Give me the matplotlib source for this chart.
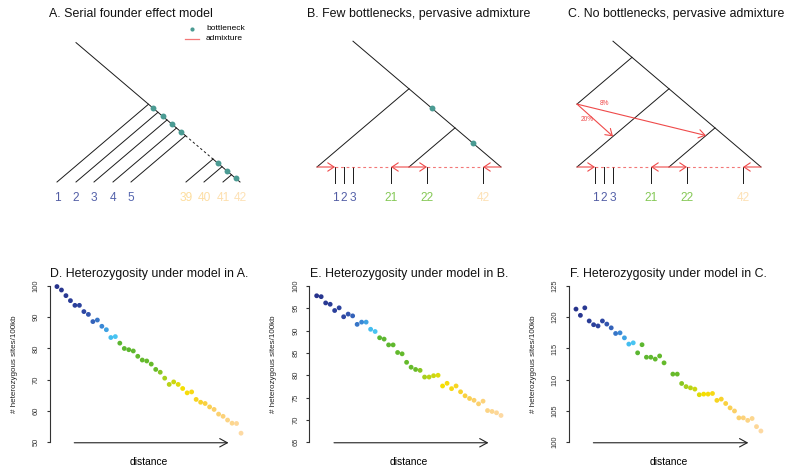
"""
Three demographic models (top) and the heterozygosity gradients they produce (bottom).
"""
import numpy as np
import matplotlib
matplotlib.use("Agg")
import matplotlib.pyplot as plt
from matplotlib.colors import to_rgb

plt.rcParams["font.family"] = ["Liberation Sans", "DejaVu Sans"]

hetA = [99.8, 98.7, 96.9, 95.3, 93.8, 93.8, 91.8, 90.9, 88.6, 89.1, 87.1, 86.0, 83.5, 83.8,
        81.7, 80.0, 79.6, 79.2, 77.5, 76.3, 76.0, 75.0, 73.3, 72.4, 70.5, 68.5, 69.3, 68.5,
        67.2, 65.8, 66.1, 63.7, 62.8, 62.4, 61.3, 60.5, 59.0, 58.3, 57.1, 56.1, 56.0, 52.9]
hetB = [97.8, 97.6, 96.2, 95.9, 94.5, 95.1, 93.1, 93.7, 93.3, 91.4, 91.9, 91.9, 90.3, 89.8,
        88.4, 88.1, 86.8, 86.8, 85.1, 84.8, 82.9, 81.8, 81.3, 81.1, 79.6, 79.6, 79.9, 80.0,
        77.6, 78.2, 77.0, 77.6, 76.3, 75.4, 74.8, 74.4, 73.6, 74.2, 72.1, 71.9, 71.6, 71.0]
hetC = [121.3, 120.3, 121.5, 119.4, 118.8, 118.6, 119.4, 118.9, 118.3, 117.4, 117.5, 116.7,
        115.7, 115.9, 114.3, 115.6, 113.6, 113.6, 113.3, 113.8, 112.7, 110.9, 110.9, 109.4,
        108.9, 108.7, 108.5, 107.6, 107.7, 107.7, 107.8, 106.7, 106.9, 106.2, 105.5, 105.0,
        103.9, 103.9, 103.5, 103.8, 102.5, 101.8]
popIndex = list(range(1, 43))
distA = list(range(1, 43))
distB = list(range(1, 43))
distC = list(range(1, 22)) + list(range(23, 44))  # panel F has one empty slot

yTicksA = [50, 60, 70, 80, 90, 100]
yTicksB = [65, 70, 75, 80, 85, 90, 95, 100]
yTicksC = [100, 105, 110, 115, 120, 125]

topTitles = ["A. Serial founder effect model",
             "B. Few bottlenecks, pervasive admixture",
             "C. No bottlenecks, pervasive admixture"]
bottomTitles = ["D. Heterozygosity under model in A.",
                "E. Heterozygosity under model in B.",
                "F. Heterozygosity under model in C."]

# schematic trees, in pixel units of the top half
leavesA = [57, 76, 94, 113, 131, 186, 204, 223, 240]
popsA = [1, 2, 3, 4, 5, 39, 40, 41, 42]
rootA = 76
leavesB = [317, 409, 501]
rootB = 353
samplesB = [335, 344, 353, 391, 427, 483]
popsB = [1, 2, 3, 21, 22, 42]
bottleB = [432, 473]
offsetC = 260
ghostTopC = 632
ghostEndC = 577
admixTargetsC = [613, 706]
admixLabelsC = ["20%", "8%"]

# colours along the distance gradient
COLOR_STOPS = [(1, "#27338c"), (7, "#2d46a2"), (9, "#3462b9"), (11, "#3a87d5"), (13, "#44bdf0"),
               (14, "#48c4f2"), (15, "#5bb631"), (23, "#68bb29"), (25, "#a6cf1d"), (28, "#dedb0a"),
               (29, "#f5df00"), (33, "#f8d22c"), (36, "#fbcf66"), (42, "#fdd9a2")]
LINE = "#1a1a1a"
RED = "#ef4a4a"
TEAL = "#4b9b93"
SLOPE = 0.85


def PopColor(i, light=0.0):
    xs = [s[0] for s in COLOR_STOPS]
    rgb = np.array([to_rgb(s[1]) for s in COLOR_STOPS])
    c = np.array([np.interp(i, xs, rgb[:, k]) for k in range(3)])
    return tuple(c + (1 - c) * light)


def RedArrow(ax, x0, y0, x1, y1):
    ax.annotate("", xy=(x1, y1), xytext=(x0, y0),
                arrowprops=dict(arrowstyle="->,head_length=0.45,head_width=0.3", color=RED,
                                lw=0.8, shrinkA=0, shrinkB=0, mutation_scale=10))


def DrawTreeA(ax):
    base = 182
    right = leavesA[-1]
    mainY = lambda x: base - SLOPE * (right - x)
    nodes = [(l + right) / 2 for l in leavesA[:-1]]
    for l, nx in zip(leavesA[:-1], nodes):
        ax.plot([l, nx], [base, mainY(nx)], color=LINE, lw=0.7)
    n5, n39 = nodes[4], nodes[5]
    ax.plot([rootA, n5], [mainY(rootA), mainY(n5)], color=LINE, lw=0.7)
    ax.plot([n5, n39], [mainY(n5), mainY(n39)], color=LINE, lw=0.7, ls=(0, (2.5, 2.5)))
    ax.plot([n39, right], [mainY(n39), base], color=LINE, lw=0.7)
    stops = nodes + [right]
    dotsX = [(stops[i] + stops[i + 1]) / 2 for i in range(len(stops) - 1) if i != 4]
    ax.scatter(dotsX, [mainY(x) for x in dotsX], s=18, color=TEAL, lw=0, zorder=5)
    for x, p in zip(leavesA, popsA):
        ax.text(x, 198, str(p), ha="center", va="center", fontsize=8.6, color=PopColor(p, 0.2))
    # legend
    ax.scatter([192], [29], s=9, color=TEAL, lw=0)
    ax.text(206, 29, "bottleneck", fontsize=6, va="center")
    ax.plot([185, 199], [39, 39], color=RED, lw=0.9, alpha=0.75)
    ax.text(206, 39, "admixture", fontsize=6, va="center")


def DrawTreeBC(ax, off, ghost):
    base = 167
    left, mid, right = [l + off for l in leavesB]
    mainY = lambda x: base - SLOPE * (right - x)
    root = rootB + off
    ax.plot([root, right], [mainY(root), base], color=LINE, lw=0.7)
    for l in (left, mid):
        nx = (l + right) / 2
        ax.plot([l, nx], [base, mainY(nx)], color=LINE, lw=0.7)
    if ghost:
        gTop, gEnd = ghostTopC, ghostEndC
        gEndY = mainY(gTop) + SLOPE * (gTop - gEnd)
        ax.plot([gEnd, gTop], [gEndY, mainY(gTop)], color=LINE, lw=0.7)
        branchStarts = [left, mid]
        for tx, bl in zip(admixTargetsC, branchStarts):
            ty = base - SLOPE * (tx - bl)
            RedArrow(ax, gEnd, gEndY, tx, ty)
        ax.text(gEnd + 10, gEndY + 15, admixLabelsC[0], fontsize=4.7, color=RED,
                ha="center", va="center")
        ax.text(gEnd + 27, gEndY - 1, admixLabelsC[1], fontsize=4.7, color=RED,
                ha="center", va="center")
    else:
        for bx in bottleB:
            ax.scatter([bx + off], [mainY(bx + off)], s=18, color=TEAL, lw=0, zorder=5)
    samples = [s + off for s in samplesB]
    for x, p in zip(samples, popsB):
        ax.plot([x, x], [base, base + 16], color=LINE, lw=0.7)
        ax.text(x, 198, str(p), ha="center", va="center", fontsize=8.6, color=PopColor(p, 0.2))
    # admixture along the sampling line
    ax.plot([samples[0], samples[3]], [base, base], color=RED, lw=0.8, alpha=0.75,
            ls=(0, (2.5, 2.5)))
    ax.plot([samples[4], samples[5]], [base, base], color=RED, lw=0.8, alpha=0.75,
            ls=(0, (2.5, 2.5)))
    RedArrow(ax, left, base, samples[0], base)
    RedArrow(ax, mid, base, samples[3], base)
    RedArrow(ax, mid, base, samples[4], base)
    RedArrow(ax, right, base, samples[5], base)


def DrawScatter(fig, rect, dist, het, ticks, title):
    ax = fig.add_axes(rect)
    pad = 0.04 * (dist[-1] - dist[0])
    ax.set_xlim(dist[0] - pad, dist[-1] + pad)
    ypad = 0.04 * (ticks[-1] - ticks[0])
    ax.set_ylim(ticks[0] - ypad, ticks[-1] + ypad)
    ax.scatter(dist, het, s=12, c=[PopColor(i) for i in popIndex], lw=0, clip_on=False)
    for side in ("top", "right", "bottom"):
        ax.spines[side].set_visible(False)
    ax.spines["left"].set_bounds(ticks[0], ticks[-1])
    ax.spines["left"].set_color("#333333")
    ax.spines["left"].set_linewidth(0.8)
    ax.set_xticks([])
    ax.set_yticks(ticks)
    ax.tick_params(axis="y", length=2.5, width=0.8, pad=4.5, labelsize=5.4, colors="#333333",
                   labelrotation=90)
    for t in ax.get_yticklabels():
        t.set_va("center")
    ax.set_ylabel("# heterozygous sites/100kb", fontsize=5.8, color="#222222")
    ax.yaxis.set_label_coords(-0.16, 0.5)
    ax.set_title(title, fontsize=8.9, pad=1.5, color="#111111")
    ax.annotate("", xy=(0.9, 0.034), xytext=(0.124, 0.034), xycoords="axes fraction",
                arrowprops=dict(arrowstyle="->,head_length=0.55,head_width=0.3", color="#222222",
                                lw=0.8, shrinkA=0, shrinkB=0, mutation_scale=10),
                annotation_clip=False)
    ax.text(0.5, -0.08, "distance", transform=ax.transAxes, ha="center", va="center",
            fontsize=7.4)
    ax.patch.set_alpha(0)
    return ax


def main():
    W, H = 787, 472
    fig = plt.figure(figsize=(W / 100, H / 100), dpi=100)
    top = fig.add_axes([0, 0, 1, 1])
    top.set_xlim(0, W)
    top.set_ylim(H, 0)
    top.axis("off")
    for x, t in zip([131, 419, 676], topTitles):
        top.text(x, 14, t, ha="center", va="center", fontsize=8.9, color="#111111")
    DrawTreeA(top)
    DrawTreeBC(top, 0, False)
    DrawTreeBC(top, offsetC, True)

    lefts = [49.6, 309.3, 568.6]
    widths = [198.8, 199.1, 199.7]
    yTop, yBottom = 279.7, 448.5
    panels = [(distA, hetA, yTicksA), (distB, hetB, yTicksB), (distC, hetC, yTicksC)]
    for (dist, het, ticks), l, w, t in zip(panels, lefts, widths, bottomTitles):
        rect = [l / W, (H - yBottom) / H, w / W, (yBottom - yTop) / H]
        DrawScatter(fig, rect, dist, het, ticks, t)
    fig.savefig("out.png", dpi=100)


if __name__ == "__main__":
    main()
